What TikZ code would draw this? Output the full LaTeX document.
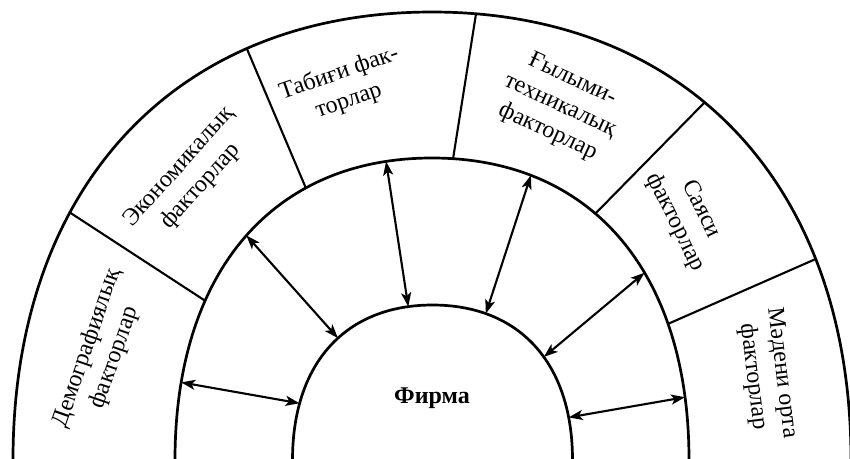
\documentclass[tikz,border=0pt]{standalone}
\usepackage{fontspec}
\setmainfont{Liberation Serif}
\usetikzlibrary{arrows.meta,calc,intersections}
\begin{document}
\begin{tikzpicture}[x=1pt,y=-1pt,
  arch/.style={line width=2.7pt},
  divider/.style={line width=2.1pt},
  link/.style={line width=2.1pt,
    {Stealth[length=14pt,width=10pt,inset=3.5pt]}-{Stealth[length=14pt,width=10pt,inset=3.5pt]}},
  label/.style={font=\fontsize{24}{29}\selectfont, align=center, inner sep=0pt},
  firm/.style={font=\bfseries\fontsize{24}{29}\selectfont, inner sep=0pt}]
\useasboundingbox (0,0) rectangle (850,458);
\clip (0,0) rectangle (850,458);

% three nested arches
\draw[arch, name path=outer] (13,460) .. controls (13,186) and (176.4,12) .. (432,12)
            .. controls (687.6,12) and (851,186) .. (851,460);
\draw[arch, name path=middle] (175,460) .. controls (175,272) and (272.7,158) .. (432,158)
            .. controls (591.3,158) and (689,272) .. (689,460);
\draw[arch, name path=inner] (292.5,460) .. controls (292.5,363) and (345.7,305) .. (432.5,305)
            .. controls (519.3,305) and (572.5,363) .. (572.5,460);

% sector boundaries of the outer ring, trimmed to the arches
\coordinate (d1o) at (66,210);  \coordinate (d1i) at (204,300);
\coordinate (d2o) at (244,42);  \coordinate (d2i) at (305,186);
\coordinate (d3o) at (476,14);  \coordinate (d3i) at (453,159);
\coordinate (d4o) at (707,100); \coordinate (d4i) at (595,214);
\coordinate (d5o) at (818,258); \coordinate (d5i) at (670,323);
\foreach \i in {1,...,5} {
  \path[name path=dl\i] ($(d\i o)!-0.15!(d\i i)$) -- ($(d\i o)!1.15!(d\i i)$);
  \path[name intersections={of=outer and dl\i, by=do\i}];
  \path[name intersections={of=middle and dl\i, by=di\i}];
  \draw[divider] (do\i) -- (di\i);
}

% two-way links between the firm and its environment
\coordinate (a1o) at (179,382); \coordinate (a1i) at (298,403);
\coordinate (a2o) at (246,235); \coordinate (a2i) at (337,337);
\coordinate (a3o) at (386,161); \coordinate (a3i) at (408,305);
\coordinate (a4o) at (530,178); \coordinate (a4i) at (486,313);
\coordinate (a5o) at (643,274); \coordinate (a5i) at (545,356);
\coordinate (a6o) at (686,397); \coordinate (a6i) at (571,417);
\foreach \i in {1,...,6} {
  \path[name path=al\i] ($(a\i o)!-0.15!(a\i i)$) -- ($(a\i o)!1.15!(a\i i)$);
  \path[name intersections={of=middle and al\i, by=ao\i}];
  \path[name intersections={of=inner and al\i, by=ai\i}];
  \draw[link] (ao\i) -- (ai\i);
}

% factor labels
\node[label, rotate=71]  (demo) at (101,353) {Демографиялық\\факторлар};
\node[label, rotate=48]  (econ) at (190,177) {Экономикалық\\факторлар};
\node[label, rotate=19]  (nat)  at (344,87)  {Табиғи фак-\\торлар};
\node[label, rotate=-25] (sci)  at (560,106) {Ғылыми-\\техникалық\\факторлар};
\node[label, rotate=-64] (pol)  at (688,216) {Саяси\\факторлар};
\node[label, rotate=-83] (cult) at (767,375) {Мәдени орта\\факторлар};

\node[firm] (firma) at (432,398) {Фирма};
\end{tikzpicture}
\end{document}
